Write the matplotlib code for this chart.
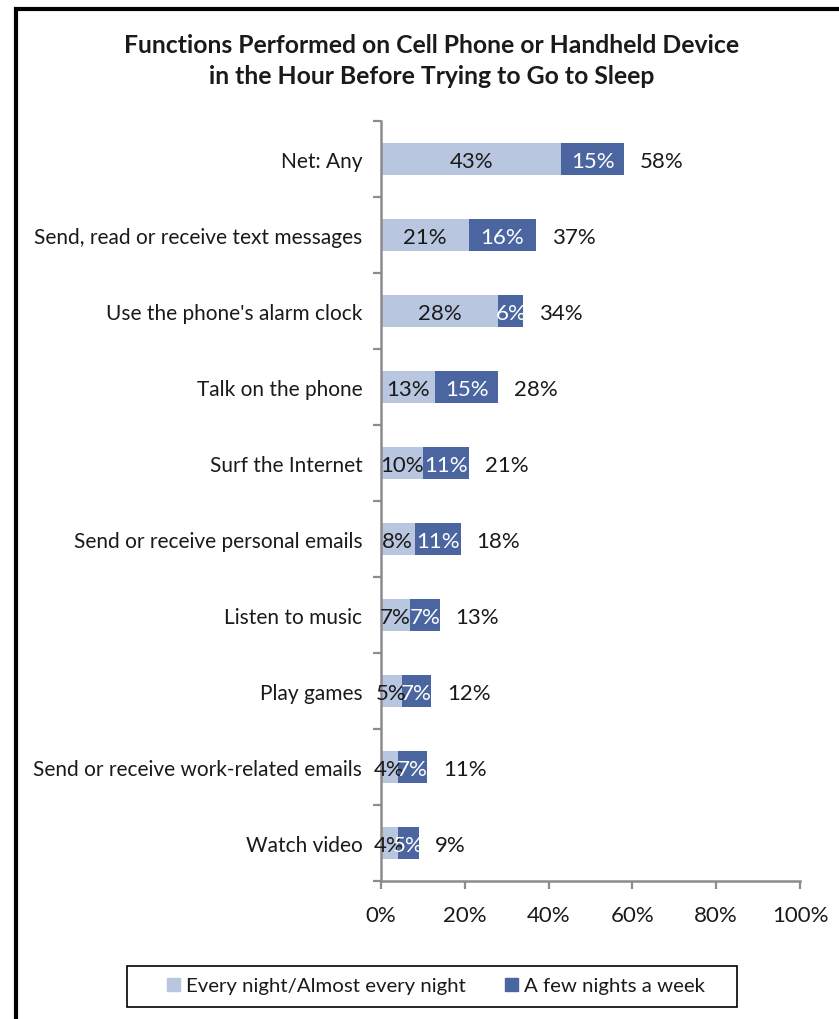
import matplotlib.pyplot as plt
from matplotlib.patches import Rectangle, Patch
import numpy as np

plt.rcParams['font.family'] = ['Lato', 'DejaVu Sans']

categories = ['Net: Any', 'Send, read or receive text messages',
              "Use the phone's alarm clock", 'Talk on the phone',
              'Surf the Internet', 'Send or receive personal emails',
              'Listen to music', 'Play games',
              'Send or receive work-related emails', 'Watch video']
every_night = [43, 21, 28, 13, 10, 8, 7, 5, 4, 4]
few_nights = [15, 16, 6, 15, 11, 11, 7, 7, 7, 5]
totals = [58, 37, 34, 28, 21, 18, 13, 12, 11, 9]
series_names = ['Every night/Almost every night', 'A few nights a week']

c_light = '#B8C6E0'
c_dark = '#4A65A0'
axis_grey = '#8C8C8C'
txt = '#1a1a1a'

fig = plt.figure(figsize=(8.39, 10.20), dpi=100)
ax = fig.add_axes([381 / 839, 1 - 882 / 1020, 419 / 839, 760 / 1020])

y = np.arange(len(categories))
h = 0.43
ax.barh(y, every_night, height=h, color=c_light, label=series_names[0])
ax.barh(y, few_nights, left=every_night, height=h, color=c_dark, label=series_names[1])

num_fs = 16
for i in range(len(categories)):
    a, b, t = every_night[i], few_nights[i], totals[i]
    ax.text(a / 2, i + 0.02, f'{a}%', ha='center', va='center', fontsize=num_fs, color=txt)
    ax.text(a + b / 2, i + 0.02, f'{b}%', ha='center', va='center', fontsize=num_fs, color='white')
    ax.text(a + b + 3.8, i + 0.02, f'{t}%', ha='left', va='center', fontsize=num_fs, color=txt)

ax.set_xlim(0, 100)
ax.set_ylim(len(categories) - 0.5, -0.5)
ax.set_xticks(np.arange(0, 101, 20))
ax.set_xticklabels([f'{v}%' for v in range(0, 101, 20)], fontsize=num_fs, color=txt)
ax.set_yticks(y)
ax.set_yticklabels(categories, fontsize=15, color=txt)
ax.set_yticks(np.arange(-0.5, len(categories)), minor=True)
ax.tick_params(axis='y', which='major', length=0, pad=13.5)
ax.tick_params(axis='y', which='minor', length=6, width=1.6, color=axis_grey, direction='out')
ax.tick_params(axis='x', length=6, width=1.6, color=axis_grey, pad=11)
for s in ['top', 'right']:
    ax.spines[s].set_visible(False)
for s in ['left', 'bottom']:
    ax.spines[s].set_color(axis_grey)
    ax.spines[s].set_linewidth(1.8)

fig.text(432 / 839, 1 - 61 / 1020,
         'Functions Performed on Cell Phone or Handheld Device\nin the Hour Before Trying to Go to Sleep',
         ha='center', va='center', fontsize=17.8, fontweight='bold', linespacing=1.4, color=txt)

handles = [Patch(color=c_light), Patch(color=c_dark)]
leg = fig.legend(handles, series_names, loc='center', ncol=2,
                 bbox_to_anchor=(436 / 839, 1 - 987 / 1020), fontsize=14.7,
                 frameon=False, handlelength=0.65, handleheight=0.65,
                 handletextpad=0.3, columnspacing=1.9, borderaxespad=0)
for t in leg.get_texts():
    t.set_color(txt)

# legend box
fig.patches.append(Rectangle((127 / 839, 1 - 1008 / 1020), 610 / 839, 41 / 1020,
                             transform=fig.transFigure, fill=False,
                             edgecolor='black', linewidth=1.2))

# outer frame, cut off at right and bottom
fig.patches.append(Rectangle((15.5 / 839, -0.1), 1.2, 1 - 9.5 / 1020 + 0.1,
                             transform=fig.transFigure, fill=False,
                             edgecolor='black', linewidth=3))

fig.savefig('out.png', dpi=100)
